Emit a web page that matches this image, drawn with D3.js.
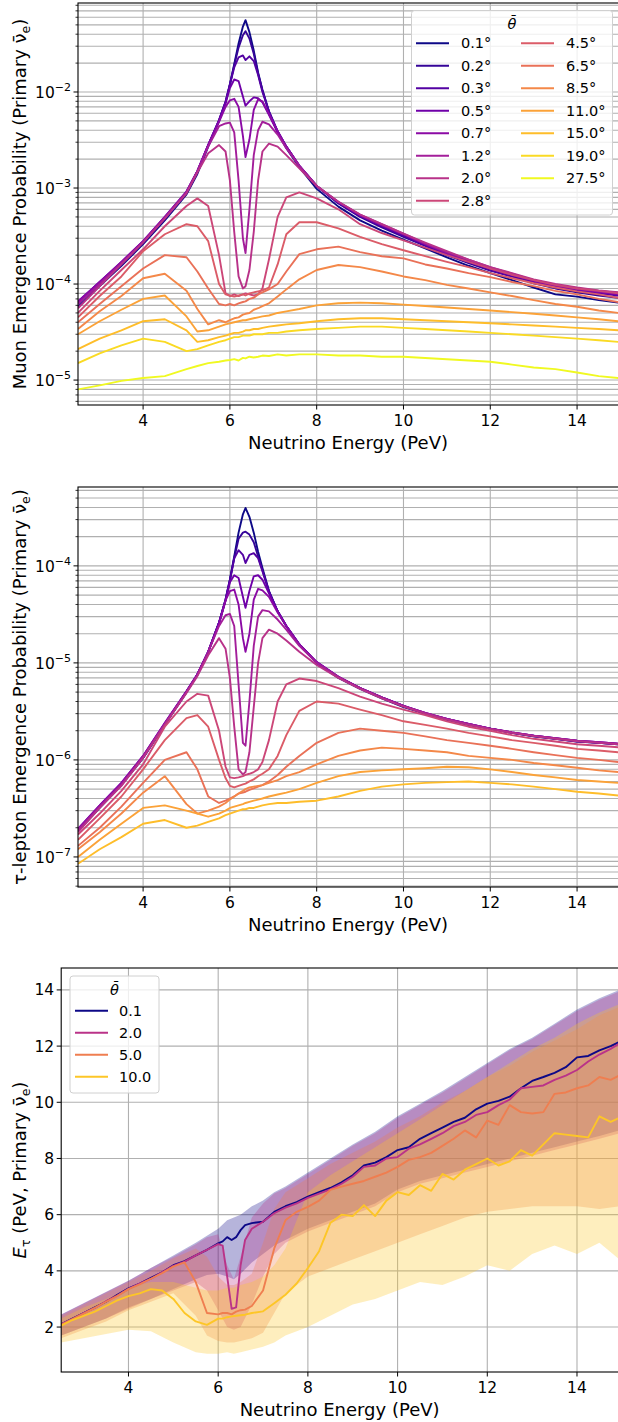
<!DOCTYPE html>
<html>
<head>
<meta charset="utf-8">
<script src="https://cdn.jsdelivr.net/npm/d3@7"></script>
<style>
  body { margin: 0; background: #fff; }
  svg { font-family: "DejaVu Sans", sans-serif; }
</style>
</head>
<body>
<script>
'use strict';

// ---------- data ----------
const energy = [2.5, 3.0, 3.5, 4.0, 4.5, 5.0, 5.25, 5.5, 5.75, 5.9, 6.0, 6.1, 6.2, 6.3, 6.36, 6.45, 6.55, 6.65, 6.75, 6.9,
  7.1, 7.3, 7.6, 8.0, 8.5, 9.0, 9.5, 10.0, 10.5, 11.0, 11.5, 12.0, 12.5, 13.0, 13.5, 14.0, 14.5, 14.95];

const thetaMuon = [0.1, 0.2, 0.3, 0.5, 0.7, 1.2, 2.0, 2.8, 4.5, 6.5, 8.5, 11.0, 15.0, 19.0, 27.5];

const muonProb = [
  [5.8e-5,9.5e-5,1.55e-4,2.6e-4,4.6e-4,8.6e-4,1.4e-3,2.7e-3,5.0e-3,7.8e-3,1.2e-2,1.95e-2,3.2e-2,4.8e-2,5.6e-2,4.2e-2,2.7e-2,1.6e-2,1.05e-2,6.2e-3,3.8e-3,2.6e-3,1.65e-3,9.8e-4,6.4e-4,4.6e-4,3.6e-4,2.9e-4,2.35e-4,1.9e-4,1.55e-4,1.3e-4,1.1e-4,9.2e-5,7.8e-5,7.4e-5,6.8e-5,6.4e-5],
  [6.2e-5,1.0e-4,1.6e-4,2.7e-4,4.8e-4,8.8e-4,1.45e-3,2.8e-3,5.1e-3,7.9e-3,1.2e-2,1.9e-2,2.9e-2,3.9e-2,4.3e-2,3.6e-2,2.5e-2,1.55e-2,1.05e-2,6.3e-3,3.9e-3,2.7e-3,1.7e-3,1.05e-3,6.9e-4,5.0e-4,3.9e-4,3.1e-4,2.5e-4,2.0e-4,1.65e-4,1.38e-4,1.2e-4,1.02e-4,9.0e-5,8.2e-5,7.6e-5,7.2e-5],
  [6.4e-5,1.05e-4,1.65e-4,2.75e-4,4.9e-4,9.0e-4,1.5e-3,2.8e-3,5.1e-3,7.9e-3,1.2e-2,1.8e-2,2.3e-2,2.4e-2,2.15e-2,2.35e-2,2.1e-2,1.5e-2,1.0e-2,6.3e-3,3.9e-3,2.7e-3,1.7e-3,1.05e-3,7.0e-4,5.1e-4,4.0e-4,3.2e-4,2.55e-4,2.05e-4,1.7e-4,1.4e-4,1.2e-4,1.05e-4,9.4e-5,8.6e-5,8.0e-5,7.6e-5],
  [6.6e-5,1.05e-4,1.7e-4,2.8e-4,5.0e-4,9.2e-4,1.5e-3,2.8e-3,5.0e-3,7.6e-3,1.1e-2,1.35e-2,1.3e-2,9.0e-3,7.2e-3,8.0e-3,8.8e-3,8.6e-3,7.8e-3,5.8e-3,3.8e-3,2.7e-3,1.7e-3,1.05e-3,7.1e-4,5.2e-4,4.1e-4,3.3e-4,2.6e-4,2.1e-4,1.75e-4,1.45e-4,1.25e-4,1.08e-4,9.6e-5,8.8e-5,8.2e-5,7.8e-5],
  [6.5e-5,1.05e-4,1.7e-4,2.8e-4,5.0e-4,9.2e-4,1.5e-3,2.8e-3,4.9e-3,7.0e-3,8.2e-3,8.5e-3,7.0e-3,3.5e-3,2.1e-3,3.2e-3,6.5e-3,8.4e-3,8.0e-3,5.9e-3,3.9e-3,2.7e-3,1.7e-3,1.05e-3,7.1e-4,5.2e-4,4.1e-4,3.3e-4,2.6e-4,2.1e-4,1.75e-4,1.45e-4,1.25e-4,1.08e-4,9.6e-5,8.8e-5,8.3e-5,7.9e-5],
  [6.2e-5,1.0e-4,1.65e-4,2.75e-4,4.9e-4,9.0e-4,1.5e-3,2.7e-3,4.4e-3,4.7e-3,4.8e-3,3.8e-3,1.2e-3,3.0e-4,2.1e-4,6.0e-4,2.2e-3,4.0e-3,4.9e-3,4.6e-3,3.6e-3,2.6e-3,1.7e-3,1.05e-3,7.2e-4,5.3e-4,4.2e-4,3.35e-4,2.65e-4,2.15e-4,1.8e-4,1.5e-4,1.28e-4,1.1e-4,9.8e-5,9.0e-5,8.5e-5,8.1e-5],
  [5.6e-5,9.5e-5,1.6e-4,2.7e-4,4.8e-4,8.8e-4,1.45e-3,2.3e-3,2.8e-3,2.4e-3,1.2e-3,3.5e-4,1.2e-4,9.0e-5,9.5e-5,1.4e-4,3.5e-4,1.2e-3,2.4e-3,2.9e-3,2.7e-3,2.2e-3,1.6e-3,1.05e-3,7.2e-4,5.3e-4,4.2e-4,3.35e-4,2.7e-4,2.2e-4,1.8e-4,1.5e-4,1.3e-4,1.12e-4,1.0e-4,9.2e-5,8.6e-5,8.2e-5],
  [5.0e-5,8.5e-5,1.4e-4,2.3e-4,4.0e-4,6.5e-4,7.8e-4,6.5e-4,2.0e-4,8.0e-5,7.5e-5,7.8e-5,7.5e-5,7.8e-5,8.0e-5,7.8e-5,7.6e-5,7.8e-5,9.0e-5,1.8e-4,5.0e-4,8.0e-4,9.0e-4,7.8e-4,6.0e-4,4.2e-4,3.4e-4,2.85e-4,2.4e-4,2.0e-4,1.7e-4,1.45e-4,1.25e-4,1.1e-4,9.8e-5,9.0e-5,8.5e-5,8.0e-5],
  [4.5e-5,7.5e-5,1.2e-4,2.2e-4,3.3e-4,4.2e-4,4.0e-4,2.8e-4,1.0e-4,7.8e-5,7.6e-5,7.4e-5,7.6e-5,7.8e-5,7.6e-5,8.0e-5,8.2e-5,8.4e-5,8.6e-5,9.2e-5,1.6e-4,3.3e-4,4.4e-4,4.4e-4,3.8e-4,3.1e-4,2.6e-4,2.25e-4,1.95e-4,1.7e-4,1.5e-4,1.3e-4,1.15e-4,1.02e-4,9.2e-5,8.4e-5,7.8e-5,7.2e-5],
  [4.0e-5,6.2e-5,9.5e-5,1.45e-4,2.0e-4,1.9e-4,1.35e-4,9.0e-5,6.2e-5,6.0e-5,6.2e-5,6.0e-5,6.3e-5,6.5e-5,6.6e-5,7.0e-5,7.2e-5,7.8e-5,8.2e-5,8.8e-5,1.0e-4,1.35e-4,2.05e-4,2.3e-4,2.45e-4,2.15e-4,1.95e-4,1.85e-4,1.6e-4,1.45e-4,1.3e-4,1.18e-4,1.05e-4,9.5e-5,8.5e-5,7.8e-5,7.0e-5,6.5e-5],
  [3.4e-5,5.2e-5,7.5e-5,1.15e-4,1.28e-4,8.5e-5,5.5e-5,3.8e-5,4.2e-5,4.0e-5,4.2e-5,4.4e-5,4.5e-5,4.8e-5,4.9e-5,5.0e-5,5.4e-5,5.6e-5,5.9e-5,6.3e-5,7.4e-5,8.8e-5,1.12e-4,1.4e-4,1.58e-4,1.5e-4,1.35e-4,1.2e-4,1.1e-4,9.8e-5,9.0e-5,8.2e-5,7.5e-5,6.8e-5,6.2e-5,5.8e-5,5.3e-5,5.0e-5],
  [3.0e-5,4.1e-5,5.4e-5,7.0e-5,7.6e-5,4.6e-5,3.2e-5,3.3e-5,3.6e-5,3.8e-5,3.9e-5,4.0e-5,4.1e-5,4.2e-5,4.2e-5,4.3e-5,4.4e-5,4.5e-5,4.6e-5,4.7e-5,5.0e-5,5.2e-5,5.5e-5,6.0e-5,6.3e-5,6.4e-5,6.3e-5,6.1e-5,5.9e-5,5.7e-5,5.5e-5,5.3e-5,5.1e-5,4.9e-5,4.7e-5,4.5e-5,4.3e-5,4.1e-5],
  [2.1e-5,2.7e-5,3.3e-5,4.1e-5,4.3e-5,3.3e-5,2.5e-5,2.6e-5,2.8e-5,2.9e-5,3.0e-5,3.1e-5,3.1e-5,3.2e-5,3.3e-5,3.3e-5,3.4e-5,3.4e-5,3.5e-5,3.6e-5,3.7e-5,3.8e-5,3.9e-5,4.1e-5,4.3e-5,4.4e-5,4.4e-5,4.3e-5,4.2e-5,4.1e-5,4.0e-5,3.9e-5,3.8e-5,3.7e-5,3.6e-5,3.5e-5,3.4e-5,3.3e-5],
  [1.5e-5,1.9e-5,2.3e-5,2.7e-5,2.5e-5,2.0e-5,2.1e-5,2.3e-5,2.5e-5,2.6e-5,2.7e-5,2.8e-5,2.8e-5,2.9e-5,2.9e-5,2.9e-5,3.0e-5,3.0e-5,3.0e-5,3.1e-5,3.1e-5,3.2e-5,3.3e-5,3.4e-5,3.5e-5,3.6e-5,3.6e-5,3.5e-5,3.4e-5,3.3e-5,3.2e-5,3.1e-5,3.0e-5,2.9e-5,2.8e-5,2.7e-5,2.6e-5,2.5e-5],
  [8.0e-6,8.8e-6,9.8e-6,1.05e-5,1.1e-5,1.3e-5,1.4e-5,1.5e-5,1.55e-5,1.6e-5,1.62e-5,1.65e-5,1.6e-5,1.7e-5,1.68e-5,1.75e-5,1.72e-5,1.75e-5,1.8e-5,1.78e-5,1.85e-5,1.8e-5,1.85e-5,1.85e-5,1.8e-5,1.8e-5,1.75e-5,1.75e-5,1.7e-5,1.65e-5,1.6e-5,1.55e-5,1.45e-5,1.35e-5,1.3e-5,1.2e-5,1.1e-5,1.05e-5]
];

// tau panel: first 13 angles only (0.1 ... 15.0)
const tauProb = [
  [1.85e-7,3.2e-7,5.5e-7,1.05e-6,2.3e-6,5.0e-6,7.5e-6,1.3e-5,2.6e-5,4.5e-5,7.2e-5,1.25e-4,2.2e-4,3.4e-4,3.95e-4,3.2e-4,2.2e-4,1.4e-4,9.5e-5,5.5e-5,3.4e-5,2.4e-5,1.55e-5,1.0e-5,7.0e-6,5.4e-6,4.3e-6,3.5e-6,3.0e-6,2.6e-6,2.3e-6,2.1e-6,1.9e-6,1.75e-6,1.65e-6,1.55e-6,1.5e-6,1.45e-6],
  [1.9e-7,3.3e-7,5.6e-7,1.05e-6,2.3e-6,5.0e-6,7.6e-6,1.3e-5,2.6e-5,4.5e-5,7.2e-5,1.2e-4,1.9e-4,2.2e-4,2.25e-4,2.1e-4,1.75e-4,1.25e-4,9.0e-5,5.5e-5,3.4e-5,2.4e-5,1.55e-5,1.0e-5,7.1e-6,5.5e-6,4.4e-6,3.6e-6,3.0e-6,2.6e-6,2.3e-6,2.1e-6,1.9e-6,1.75e-6,1.65e-6,1.55e-6,1.5e-6,1.45e-6],
  [1.9e-7,3.3e-7,5.7e-7,1.08e-6,2.35e-6,5.1e-6,7.6e-6,1.3e-5,2.6e-5,4.4e-5,7.0e-5,1.2e-4,1.45e-4,1.3e-4,1.07e-4,1.3e-4,1.35e-4,1.2e-4,8.8e-5,5.4e-5,3.4e-5,2.4e-5,1.55e-5,1.02e-5,7.2e-6,5.5e-6,4.4e-6,3.6e-6,3.0e-6,2.65e-6,2.35e-6,2.1e-6,1.9e-6,1.78e-6,1.66e-6,1.57e-6,1.5e-6,1.46e-6],
  [1.95e-7,3.4e-7,5.8e-7,1.1e-6,2.4e-6,5.1e-6,7.6e-6,1.3e-5,2.6e-5,4.4e-5,6.8e-5,8.0e-5,7.5e-5,4.8e-5,3.7e-5,5.5e-5,7.8e-5,8.0e-5,7.2e-5,5.2e-5,3.4e-5,2.4e-5,1.55e-5,1.02e-5,7.2e-6,5.5e-6,4.4e-6,3.6e-6,3.05e-6,2.65e-6,2.35e-6,2.1e-6,1.92e-6,1.78e-6,1.67e-6,1.58e-6,1.52e-6,1.47e-6],
  [1.95e-7,3.4e-7,5.8e-7,1.1e-6,2.4e-6,5.1e-6,7.6e-6,1.3e-5,2.5e-5,4.4e-5,5.5e-5,5.7e-5,4.0e-5,1.8e-5,1.3e-5,2.0e-5,4.5e-5,5.8e-5,5.6e-5,4.8e-5,3.3e-5,2.4e-5,1.55e-5,1.02e-5,7.2e-6,5.5e-6,4.4e-6,3.6e-6,3.05e-6,2.65e-6,2.35e-6,2.1e-6,1.92e-6,1.78e-6,1.67e-6,1.58e-6,1.52e-6,1.47e-6],
  [1.9e-7,3.3e-7,5.6e-7,1.08e-6,2.35e-6,5.0e-6,7.5e-6,1.3e-5,2.4e-5,3.1e-5,3.2e-5,2.4e-5,6.0e-6,1.5e-6,1.4e-6,4.0e-6,1.5e-5,3.0e-5,3.5e-5,3.4e-5,2.8e-5,2.2e-5,1.5e-5,1.0e-5,7.2e-6,5.5e-6,4.4e-6,3.6e-6,3.05e-6,2.65e-6,2.35e-6,2.1e-6,1.92e-6,1.78e-6,1.67e-6,1.58e-6,1.52e-6,1.47e-6],
  [1.8e-7,3.2e-7,5.4e-7,1.05e-6,2.3e-6,4.9e-6,7.3e-6,1.2e-5,1.8e-5,1.4e-5,7.0e-6,2.2e-6,8.0e-7,7.1e-7,7.5e-7,1.2e-6,3.5e-6,1.0e-5,1.8e-5,2.2e-5,2.0e-5,1.7e-5,1.3e-5,9.5e-6,7.0e-6,5.4e-6,4.3e-6,3.55e-6,3.0e-6,2.6e-6,2.3e-6,2.08e-6,1.9e-6,1.76e-6,1.65e-6,1.56e-6,1.5e-6,1.45e-6],
  [1.7e-7,2.8e-7,4.8e-7,9.0e-7,2.2e-6,4.0e-6,4.8e-6,4.6e-6,2.0e-6,8.5e-7,6.6e-7,6.5e-7,6.6e-7,6.8e-7,7.0e-7,7.2e-7,7.5e-7,8.0e-7,9.5e-7,1.6e-6,4.0e-6,6.0e-6,6.9e-6,6.5e-6,5.5e-6,4.5e-6,3.8e-6,3.3e-6,2.9e-6,2.5e-6,2.2e-6,2.0e-6,1.8e-6,1.65e-6,1.55e-6,1.45e-6,1.4e-6,1.35e-6],
  [1.5e-7,2.5e-7,4.2e-7,8.0e-7,1.6e-6,2.7e-6,2.9e-6,2.2e-6,1.0e-6,6.5e-7,5.4e-7,5.2e-7,5.4e-7,5.6e-7,5.7e-7,6.0e-7,6.3e-7,6.8e-7,7.2e-7,8.0e-7,1.1e-6,1.8e-6,3.2e-6,4.0e-6,3.8e-6,3.3e-6,2.9e-6,2.5e-6,2.3e-6,2.1e-6,1.9e-6,1.75e-6,1.6e-6,1.5e-6,1.4e-6,1.3e-6,1.25e-6,1.2e-6],
  [1.3e-7,2.0e-7,3.3e-7,5.8e-7,1.0e-6,1.2e-6,8.0e-7,4.2e-7,3.6e-7,3.8e-7,4.0e-7,4.2e-7,4.5e-7,4.6e-7,4.7e-7,4.9e-7,5.1e-7,5.3e-7,5.5e-7,6.0e-7,7.0e-7,8.5e-7,1.1e-6,1.5e-6,1.9e-6,2.1e-6,2.0e-6,1.9e-6,1.75e-6,1.6e-6,1.5e-6,1.4e-6,1.3e-6,1.2e-6,1.12e-6,1.05e-6,1.0e-6,9.5e-7],
  [1.2e-7,1.8e-7,2.8e-7,4.6e-7,6.8e-7,3.5e-7,2.8e-7,3.0e-7,3.3e-7,3.6e-7,3.9e-7,4.2e-7,4.5e-7,4.8e-7,5.0e-7,5.2e-7,5.3e-7,5.4e-7,5.5e-7,5.8e-7,6.2e-7,6.8e-7,7.5e-7,9.0e-7,1.1e-6,1.25e-6,1.34e-6,1.3e-6,1.25e-6,1.2e-6,1.1e-6,1.05e-6,1.0e-6,9.3e-7,8.8e-7,8.3e-7,7.8e-7,7.5e-7],
  [1.0e-7,1.5e-7,2.2e-7,3.2e-7,3.4e-7,3.0e-7,2.8e-7,2.6e-7,2.8e-7,3.0e-7,3.2e-7,3.3e-7,3.4e-7,3.5e-7,3.6e-7,3.7e-7,3.8e-7,3.9e-7,4.0e-7,4.2e-7,4.4e-7,4.6e-7,5.0e-7,5.8e-7,6.8e-7,7.5e-7,7.8e-7,8.0e-7,8.2e-7,8.5e-7,8.4e-7,8.0e-7,7.5e-7,7.0e-7,6.6e-7,6.2e-7,6.0e-7,5.8e-7],
  [8.5e-8,1.2e-7,1.6e-7,2.2e-7,2.4e-7,2.0e-7,2.1e-7,2.3e-7,2.5e-7,2.7e-7,2.8e-7,2.9e-7,3.0e-7,3.1e-7,3.1e-7,3.2e-7,3.2e-7,3.3e-7,3.4e-7,3.5e-7,3.6e-7,3.6e-7,3.7e-7,3.8e-7,4.2e-7,4.8e-7,5.3e-7,5.6e-7,5.8e-7,5.9e-7,6.0e-7,5.8e-7,5.6e-7,5.3e-7,5.0e-7,4.7e-7,4.5e-7,4.3e-7]
];

// tau energy panel
const energyTau = [2.5,2.75,3,3.25,3.5,3.75,4,4.25,4.5,4.75,5,5.25,5.5,5.75,6,6.1,6.2,6.3,6.4,6.5,6.6,6.75,7,7.25,7.5,7.75,8,
  8.25,8.5,8.75,9,9.25,9.5,9.75,10,10.25,10.5,10.75,11,11.25,11.5,11.75,12,12.25,12.5,12.75,13,13.25,13.5,13.75,14,14.25,14.5,14.75,14.95];
const thetaTau = [0.1, 2.0, 5.0, 10.0];
const tauMean = [
  [2.1,2.3,2.5,2.7,2.9,3.15,3.38,3.55,3.75,3.95,4.2,4.35,4.55,4.75,4.98,5.05,5.2,5.1,5.2,5.45,5.63,5.7,5.75,6.1,6.3,6.45,6.64,6.8,6.95,7.15,7.4,7.75,7.85,8.05,8.3,8.4,8.7,8.9,9.1,9.3,9.45,9.75,9.95,10.05,10.2,10.5,10.76,10.9,11.05,11.25,11.6,11.65,11.85,12.0,12.15],
  [2.1,2.28,2.5,2.68,2.92,3.12,3.36,3.55,3.72,3.95,4.18,4.33,4.55,4.75,4.95,4.9,3.8,2.65,2.7,4.2,5.1,5.5,5.75,6.05,6.25,6.4,6.6,6.75,6.9,7.1,7.35,7.7,7.75,8.0,8.05,8.35,8.5,8.7,8.9,9.15,9.3,9.55,9.65,9.9,10.1,10.5,10.55,10.6,10.8,10.95,11.15,11.45,11.7,11.9,12.1],
  [2.08,2.28,2.48,2.68,2.9,3.1,3.35,3.52,3.72,3.92,4.15,4.3,3.6,2.5,2.45,2.5,2.5,2.45,2.55,2.6,2.62,2.75,3.3,4.8,5.8,6.1,6.28,6.5,6.88,7.0,7.1,7.2,7.35,7.5,7.7,7.95,8.05,8.2,8.45,8.7,9.0,8.75,9.35,9.2,9.9,9.65,9.6,9.65,10.3,10.35,10.5,10.6,10.9,10.8,10.96],
  [2.05,2.25,2.4,2.55,2.75,2.95,3.1,3.2,3.35,3.3,3.0,2.5,2.2,2.08,2.3,2.3,2.35,2.38,2.4,2.42,2.44,2.5,2.56,2.85,3.15,3.55,4.1,4.7,5.7,6.0,5.95,6.34,5.95,6.5,6.8,6.7,7.05,6.85,7.45,7.25,7.6,7.8,8.0,7.75,7.9,8.3,8.1,8.5,8.9,8.85,8.8,8.75,9.5,9.3,9.45]
];
const energyBand = [2.5,3,3.5,4,4.5,5,5.5,5.75,6,6.2,6.35,6.5,6.75,7,7.25,7.5,8,8.5,9,9.5,10,10.5,11,11.5,12,12.5,13,13.5,14,14.5,14.95];
const tauLow = [
  [1.7,2.0,2.3,2.7,3.0,3.35,3.7,3.85,3.9,3.8,3.7,3.9,4.3,4.6,4.9,5.1,5.5,5.8,6.1,6.4,6.9,7.2,7.4,7.6,7.8,8.0,8.2,8.4,8.6,8.8,9.0],
  [1.7,2.0,2.3,2.65,3.0,3.3,3.6,3.3,2.6,2.0,1.9,2.0,2.8,3.8,4.6,5.0,5.4,5.7,6.0,6.3,6.8,7.1,7.3,7.5,7.7,7.9,8.1,8.3,8.5,8.7,8.9],
  [1.6,1.9,2.2,2.6,2.9,3.2,2.4,1.7,1.5,1.45,1.45,1.5,1.6,1.8,2.5,3.2,3.8,4.1,4.4,4.7,5.0,5.3,5.6,5.9,6.1,6.2,6.3,6.3,6.3,6.2,6.3],
  [1.45,1.6,1.75,1.9,1.85,1.45,1.1,1.05,1.05,1.1,1.05,1.1,1.2,1.3,1.45,1.7,2.0,2.4,2.8,3.0,3.3,3.6,3.5,3.8,4.2,4.0,4.6,4.9,4.6,5.0,4.4]
];
const tauHigh = [
  [2.45,2.85,3.25,3.65,4.1,4.55,5.0,5.25,5.5,5.8,5.9,6.0,6.3,6.5,6.8,7.0,7.5,8.0,8.5,8.95,9.5,9.95,10.4,10.9,11.4,11.9,12.3,12.8,13.3,13.7,14.0],
  [2.45,2.85,3.25,3.65,4.1,4.5,4.95,5.2,5.3,4.2,3.7,4.5,5.9,6.4,6.75,6.95,7.45,7.95,8.45,8.9,9.45,9.9,10.35,10.85,11.35,11.85,12.25,12.75,13.25,13.65,13.95],
  [2.4,2.8,3.2,3.6,4.0,4.45,4.8,4.5,3.8,3.5,3.5,3.6,3.9,5.0,6.2,6.8,7.3,7.8,8.2,8.6,9.1,9.5,10.0,10.4,10.9,11.3,11.8,12.2,12.6,13.1,13.4],
  [2.3,2.7,3.0,3.4,3.6,3.6,3.4,3.3,3.3,3.4,3.4,3.5,3.6,3.8,4.2,4.8,6.8,7.4,7.9,8.4,8.9,9.4,9.9,10.4,10.9,11.4,11.9,12.3,12.8,13.2,13.5]
];
const tauColorT = [0.0, 0.43, 0.68, 0.88];

// ---------- drawing ----------
const svg = d3.select('body').append('svg')
    .attr('width', 618)
    .attr('height', 1422);

const gridColor = '#b0b0b0';
const muonColor = i => d3.interpolatePlasma(i / 14);

function xAxisBottom(g, x, bottom) {
    [4, 6, 8, 10, 12, 14].forEach(t => {
        g.append('line').attr('x1', x(t)).attr('x2', x(t))
            .attr('y1', bottom).attr('y2', bottom + 4.5)
            .attr('stroke', '#000').attr('stroke-width', 1);
        g.append('text').attr('x', x(t)).attr('y', bottom + 21)
            .attr('text-anchor', 'middle').attr('font-size', 15.5).text(t);
    });
    g.append('text').attr('x', (x.range()[0] + 618) / 2).attr('y', bottom + 44)
        .attr('text-anchor', 'middle').attr('font-size', 18).text('Neutrino Energy (PeV)');
}

function nuLabel(cx, cy, before) {
    let t = svg.append('text')
        .attr('transform', 'translate(' + cx + ',' + cy + ') rotate(-90)')
        .attr('text-anchor', 'middle').attr('font-size', 18);
    before(t);
    t.append('tspan').text('Primary \u03bd\u0304');
    t.append('tspan').attr('font-size', 12.5).attr('dy', 4).text('e');
    t.append('tspan').attr('dy', -4).text(')');
}

function logPanel(cfg) {
    let x = d3.scaleLinear().domain([2.5, 14.95]).range([cfg.left, 618.3]);
    let y = d3.scaleLog().domain(cfg.ylim).range([cfg.bottom, cfg.top]);
    let g = svg.append('g');

    svg.append('clipPath').attr('id', cfg.clip).append('rect')
        .attr('x', cfg.left).attr('y', cfg.top)
        .attr('width', 618 - cfg.left).attr('height', cfg.bottom - cfg.top);

    let ticks = y.ticks();
    let isMajor = v => Math.abs(Math.log10(v) - Math.round(Math.log10(v))) < 1e-6;

    // grid
    g.selectAll('.hg').data(ticks).enter().append('line')
        .attr('x1', cfg.left).attr('x2', 618)
        .attr('y1', d => y(d)).attr('y2', d => y(d))
        .attr('stroke', gridColor).attr('stroke-width', 1.1);
    g.selectAll('.vg').data([4, 6, 8, 10, 12, 14]).enter().append('line')
        .attr('x1', d => x(d)).attr('x2', d => x(d))
        .attr('y1', cfg.top).attr('y2', cfg.bottom)
        .attr('stroke', gridColor).attr('stroke-width', 1.1);

    // curves
    let line = d3.line().x(d => x(d[0])).y(d => y(d[1]));
    let lg = g.append('g').attr('clip-path', 'url(#' + cfg.clip + ')');
    cfg.series.forEach((vals, i) => {
        lg.append('path')
            .datum(energy.map((e, k) => [e, vals[k]]))
            .attr('d', line)
            .attr('fill', 'none')
            .attr('stroke', muonColor(i))
            .attr('stroke-width', 1.9)
            .attr('stroke-linejoin', 'round');
    });

    // frame
    g.append('rect').attr('x', cfg.left).attr('y', cfg.top)
        .attr('width', 640 - cfg.left).attr('height', cfg.bottom - cfg.top)
        .attr('fill', 'none').attr('stroke', '#000').attr('stroke-width', 1.1);

    // y ticks
    ticks.forEach(v => {
        let maj = isMajor(v);
        g.append('line').attr('x1', cfg.left - (maj ? 4.5 : 2.5)).attr('x2', cfg.left)
            .attr('y1', y(v)).attr('y2', y(v))
            .attr('stroke', '#000').attr('stroke-width', maj ? 1 : 0.8);
        if (maj) {
            let t = g.append('text').attr('x', cfg.left - 7).attr('y', y(v) + 6)
                .attr('text-anchor', 'end').attr('font-size', 15.5);
            t.append('tspan').text('10');
            t.append('tspan').attr('font-size', 11).attr('dy', -7)
                .text('\u2212' + Math.round(-Math.log10(v)));
        }
    });
    xAxisBottom(g, x, cfg.bottom);
    return {x: x, y: y, g: g};
}

// ---- panel 1: muons
logPanel({top: 3, bottom: 405, left: 78, ylim: [5.5e-6, 0.0845], series: muonProb, clip: 'clipMuon'});
nuLabel(26, 204, t => t.append('tspan').text('Muon Emergence Probability ('));

// legend panel 1
(function () {
    let lg = svg.append('g');
    lg.append('rect').attr('x', 411.5).attr('y', 10.5).attr('width', 201).attr('height', 204.5)
        .attr('rx', 3).attr('fill', '#fff').attr('fill-opacity', 0.8)
        .attr('stroke', '#d0d0d0').attr('stroke-width', 1);
    lg.append('text').attr('x', 512).attr('y', 29).attr('text-anchor', 'middle')
        .attr('font-size', 14.5).attr('font-style', 'italic').text('\u03b8\u0304');
    thetaMuon.forEach((th, i) => {
        let col = i < 8 ? 0 : 1;
        let row = i < 8 ? i : i - 8;
        let x0 = col === 0 ? 416 : 521;
        let yy = 43.3 + row * 22.5;
        lg.append('line').attr('x1', x0).attr('x2', x0 + 33).attr('y1', yy).attr('y2', yy)
            .attr('stroke', muonColor(i)).attr('stroke-width', 1.9);
        lg.append('text').attr('x', x0 + 45).attr('y', yy + 5).attr('font-size', 14.5)
            .text(th.toFixed(1) + '\u00b0');
    });
})();

// ---- panel 2: taus
logPanel({top: 487, bottom: 887, left: 78, ylim: [4.9e-8, 6.5e-4], series: tauProb, clip: 'clipTau'});
nuLabel(26, 687, t => t.append('tspan').text('\u03c4-lepton Emergence Probability ('));

// ---- panel 3: tau energy
(function () {
    let left = 61.2, top = 968, bottom = 1372;
    let x = d3.scaleLinear().domain([2.5, 14.95]).range([left, 619.6]);
    let y = d3.scaleLinear().domain([0.4, 14.78]).range([bottom, top]);
    let g = svg.append('g');
    svg.append('clipPath').attr('id', 'clipEnergy').append('rect')
        .attr('x', left).attr('y', top).attr('width', 618 - left).attr('height', bottom - top);

    let yt = [2, 4, 6, 8, 10, 12, 14];
    g.selectAll('.hg').data(yt).enter().append('line')
        .attr('x1', left).attr('x2', 618).attr('y1', d => y(d)).attr('y2', d => y(d))
        .attr('stroke', gridColor).attr('stroke-width', 1.1);
    g.selectAll('.vg').data([4, 6, 8, 10, 12, 14]).enter().append('line')
        .attr('x1', d => x(d)).attr('x2', d => x(d)).attr('y1', top).attr('y2', bottom)
        .attr('stroke', gridColor).attr('stroke-width', 1.1);

    let cg = g.append('g').attr('clip-path', 'url(#clipEnergy)');
    let area = d3.area().x(d => x(d[0])).y0(d => y(d[1])).y1(d => y(d[2]));
    let line = d3.line().x(d => x(d[0])).y(d => y(d[1]));
    let col = i => d3.interpolatePlasma(tauColorT[i]);

    thetaTau.forEach((th, i) => {
        cg.append('path')
            .datum(energyBand.map((e, k) => [e, tauLow[i][k], tauHigh[i][k]]))
            .attr('d', area).attr('fill', col(i)).attr('fill-opacity', 0.3).attr('stroke', 'none');
    });
    thetaTau.forEach((th, i) => {
        cg.append('path')
            .datum(energyTau.map((e, k) => [e, tauMean[i][k]]))
            .attr('d', line).attr('fill', 'none').attr('stroke', col(i))
            .attr('stroke-width', 1.9).attr('stroke-linejoin', 'round');
    });

    g.append('rect').attr('x', left).attr('y', top).attr('width', 640 - left).attr('height', bottom - top)
        .attr('fill', 'none').attr('stroke', '#000').attr('stroke-width', 1.1);
    yt.forEach(v => {
        g.append('line').attr('x1', left - 4.5).attr('x2', left).attr('y1', y(v)).attr('y2', y(v))
            .attr('stroke', '#000');
        g.append('text').attr('x', left - 7).attr('y', y(v) + 5.5).attr('text-anchor', 'end')
            .attr('font-size', 15.5).text(v);
    });
    xAxisBottom(g, x, bottom);

    // y label
    let t = svg.append('text')
        .attr('transform', 'translate(26,1170) rotate(-90)')
        .attr('text-anchor', 'middle').attr('font-size', 18);
    t.append('tspan').attr('font-style', 'italic').text('E');
    t.append('tspan').attr('font-size', 12.5).attr('dy', 4).text('\u03c4');
    t.append('tspan').attr('dy', -4).text(' (PeV, Primary \u03bd\u0304');
    t.append('tspan').attr('font-size', 12.5).attr('dy', 4).text('e');
    t.append('tspan').attr('dy', -4).text(')');

    // legend
    let lg = svg.append('g');
    lg.append('rect').attr('x', 70).attr('y', 976).attr('width', 89).attr('height', 117)
        .attr('rx', 3).attr('fill', '#fff').attr('fill-opacity', 0.8)
        .attr('stroke', '#d0d0d0');
    lg.append('text').attr('x', 114.5).attr('y', 995).attr('text-anchor', 'middle')
        .attr('font-size', 14.5).attr('font-style', 'italic').text('\u03b8\u0304');
    thetaTau.forEach((th, i) => {
        let yy = 1010.7 + i * 22;
        lg.append('line').attr('x1', 75).attr('x2', 108).attr('y1', yy).attr('y2', yy)
            .attr('stroke', col(i)).attr('stroke-width', 1.9);
        lg.append('text').attr('x', 119).attr('y', yy + 5).attr('font-size', 14.5).text(th.toFixed(1));
    });
})();
</script>
</body>
</html>
